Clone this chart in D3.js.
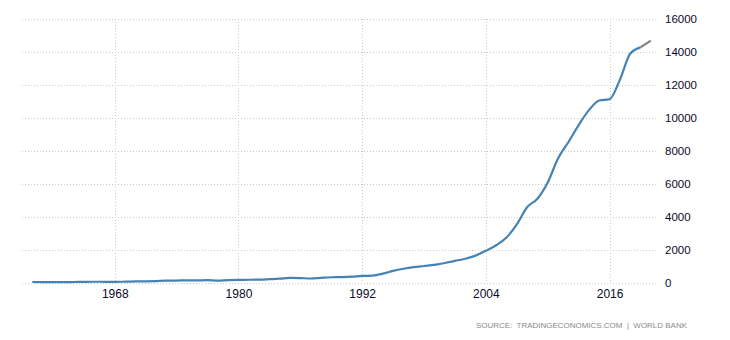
<!DOCTYPE html>
<html>
<head>
<meta charset="utf-8">
<script src="https://cdn.jsdelivr.net/npm/d3@7"></script>
<style>
  html, body { margin: 0; padding: 0; background: #fff; }
  svg { display: block; }
</style>
</head>
<body>
<svg id="chart" width="730" height="340"></svg>
<script>
// China GDP, billions of US dollars (World Bank)
const years = d3.range(1960, 2021);
const gdp = [
  59.7, 50.1, 47.2, 50.7, 59.7, 70.4, 76.7, 72.9, 70.8, 79.7,
  92.6, 99.8, 113.7, 138.5, 144.2, 163.4, 153.9, 174.9, 149.5, 178.3,
  191.1, 195.9, 205.1, 230.7, 259.9, 309.5, 300.8, 272.9, 312.4, 347.8,
  360.9, 383.4, 426.9, 444.7, 564.3, 734.5, 863.7, 961.6, 1029.0, 1094.0,
  1211.3, 1339.4, 1470.6, 1660.3, 1955.3, 2286.0, 2752.1, 3550.3, 4594.3, 5101.7,
  6087.2, 7551.5, 8532.2, 9570.4, 10475.7, 11061.6, 11137.9, 12310.4, 13894.8, 14279.9,
  14687.7
];
// last year drawn as a grey extension
const lastActual = 2019;
const xTicks = [1968, 1980, 1992, 2004, 2016];
const yTicks = [0, 2000, 4000, 6000, 8000, 10000, 12000, 14000, 16000];
const sourceText = "SOURCE:  TRADINGECONOMICS.COM  |  WORLD BANK";

const svg = d3.select("#chart");
const plot = { left: 22, right: 658, top: 19, bottom: 283 };

const x = d3.scaleLinear().domain([1959, 2020.7]).range([plot.left, plot.right]);
const y = d3.scaleLinear().domain([0, 16000]).range([plot.bottom, plot.top]);

const data = years.map((yr, i) => ({ year: yr, value: gdp[i] }));

// grid
const grid = svg.append("g").attr("stroke", "#c8c8c8").attr("stroke-width", 1)
  .attr("stroke-dasharray", "1,2").attr("shape-rendering", "crispEdges");
grid.selectAll("line.h").data(yTicks).join("line").attr("class", "h")
  .attr("x1", plot.left).attr("x2", plot.right)
  .attr("y1", d => Math.round(y(d)) + 0.5).attr("y2", d => Math.round(y(d)) + 0.5);
grid.selectAll("line.v").data(xTicks).join("line").attr("class", "v")
  .attr("x1", d => Math.round(x(d)) + 0.5).attr("x2", d => Math.round(x(d)) + 0.5)
  .attr("y1", plot.top).attr("y2", plot.bottom);

// axes
const font = "'Liberation Sans', Arial, sans-serif";
const yAxis = d3.axisRight(y).tickValues(yTicks).tickSize(0).tickPadding(0).tickFormat(d3.format("d"));
svg.append("g").attr("transform", `translate(${plot.right + 7},0)`).call(yAxis)
  .call(g => g.select(".domain").remove())
  .call(g => g.selectAll("text").attr("font-family", font).attr("font-size", 11.5).attr("fill", "#0a0a2a"));

const xAxis = d3.axisBottom(x).tickValues(xTicks).tickSize(0).tickPadding(0).tickFormat(d3.format("d"));
svg.append("g").attr("transform", `translate(0,${plot.bottom + 6})`).call(xAxis)
  .call(g => g.select(".domain").remove())
  .call(g => g.selectAll("text").attr("font-family", font).attr("font-size", 12).attr("fill", "#0a0a2a"));

// line
const line = d3.line().x(d => x(d.year)).y(d => y(d.value)).curve(d3.curveMonotoneX);
svg.append("path").datum(data.filter(d => d.year >= lastActual))
  .attr("fill", "none").attr("stroke", "#7f7f7f").attr("stroke-width", 2)
  .attr("d", line);
svg.append("path").datum(data.filter(d => d.year <= lastActual))
  .attr("fill", "none").attr("stroke", "#4682b4").attr("stroke-width", 2.2)
  .attr("stroke-linejoin", "round").attr("d", line);

// source
svg.append("text").attr("x", 476).attr("y", 328)
  .attr("font-family", font).attr("font-size", 8).attr("fill", "#8a8a8a")
  .attr("textLength", 211).attr("lengthAdjust", "spacing")
  .style("white-space", "pre").text(sourceText);
</script>
</body>
</html>
